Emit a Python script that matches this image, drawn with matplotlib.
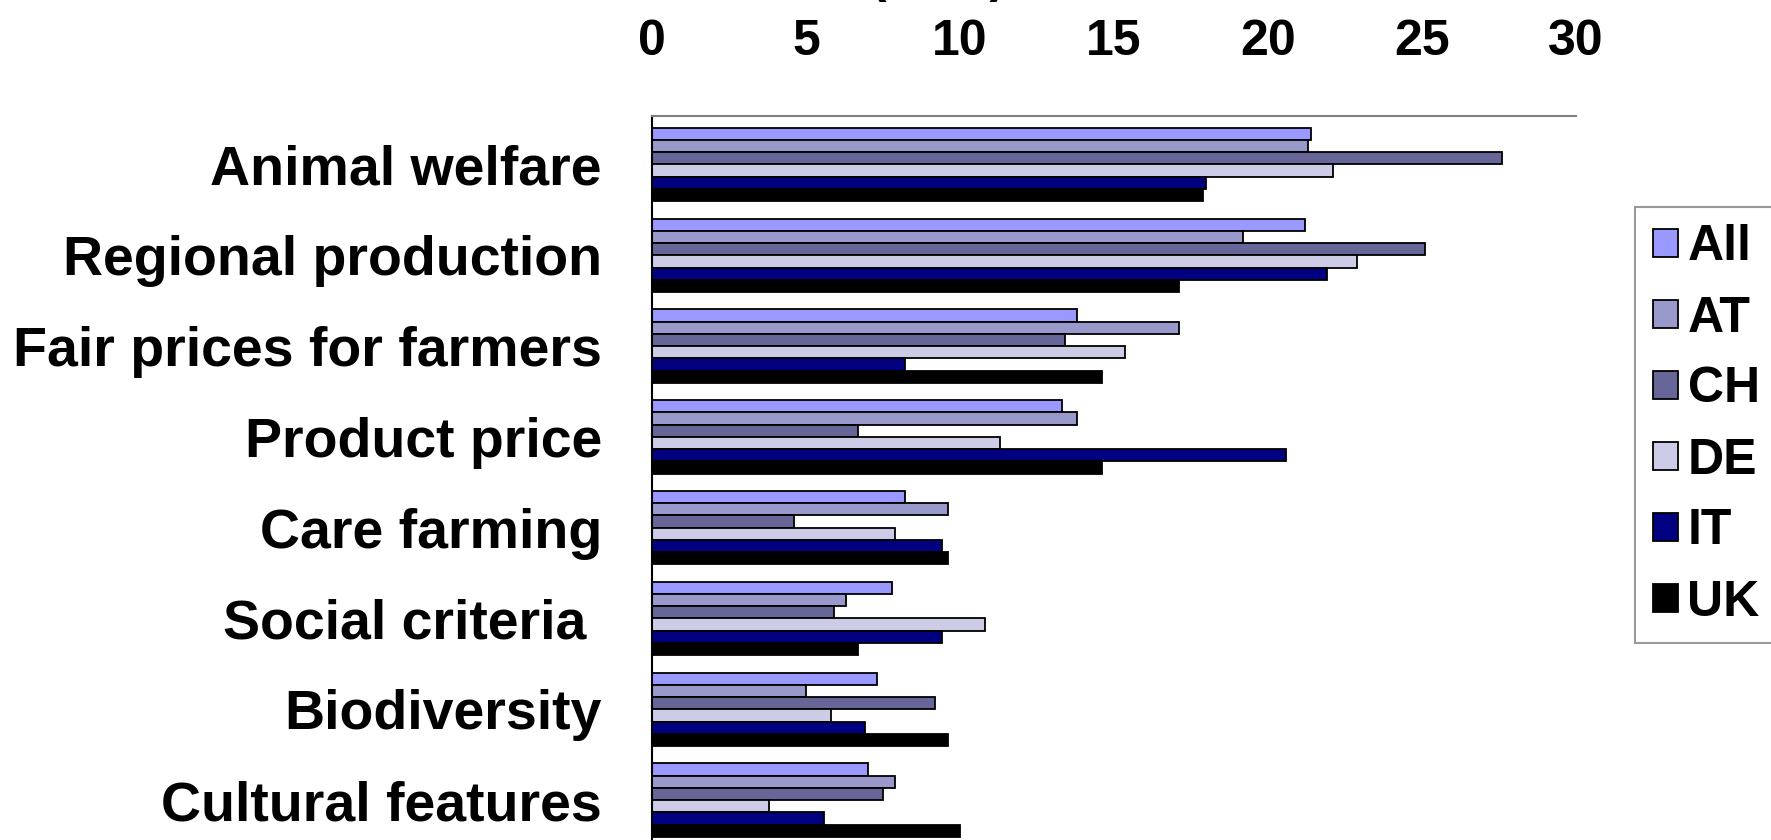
import matplotlib
matplotlib.use('Agg')
import matplotlib.pyplot as plt
import numpy as np

categories = ['Animal welfare', 'Regional production', 'Fair prices for farmers',
              'Product price', 'Care farming', 'Social criteria ', 'Biodiversity',
              'Cultural features']
series = ['All', 'AT', 'CH', 'DE', 'IT', 'UK']
all_vals = [21.4, 21.2, 13.8, 13.3, 8.2, 7.8, 7.3, 7.0]
at_vals = [21.3, 19.2, 17.1, 13.8, 9.6, 6.3, 5.0, 7.9]
ch_vals = [27.6, 25.1, 13.4, 6.7, 4.6, 5.9, 9.2, 7.5]
de_vals = [22.1, 22.9, 15.35, 11.3, 7.9, 10.8, 5.8, 3.8]
it_vals = [18.0, 21.9, 8.2, 20.6, 9.4, 9.4, 6.9, 5.6]
uk_vals = [17.9, 17.1, 14.6, 14.6, 9.6, 6.7, 9.6, 10.0]
xticks = [0, 5, 10, 15, 20, 25, 30]

colors = ['#9999FF', '#9999CC', '#666699', '#CCCCE6', '#000080', '#000000']

plt.rcParams['font.family'] = ['Liberation Sans', 'DejaVu Sans']
plt.rcParams['font.weight'] = 'bold'

fig = plt.figure(figsize=(17.71, 8.40), dpi=100)
ax = fig.add_axes([652 / 1771, -0.0101, 924 / 1771, 0.8719])

data = [all_vals, at_vals, ch_vals, de_vals, it_vals, uk_vals]
y = np.arange(len(categories))
h = 0.135
for k, (name, vals) in enumerate(zip(series, data)):
    ax.barh(y + (k - 2.5) * h, vals, height=h, color=colors[k],
            edgecolor='black', linewidth=1.3, label=name)

ax.set_xlim(0, 30)
ax.set_ylim(7.533, -0.533)
ax.xaxis.tick_top()
ax.set_xticks(xticks)
ax.set_xticklabels([str(t) for t in xticks], fontsize=36, fontweight='bold')
ax.set_yticks(y)
ax.set_yticklabels(categories, fontsize=40, fontweight='bold')
ax.tick_params(axis='x', length=0, pad=37)
ax.tick_params(axis='y', length=0, pad=36)

ax.spines['right'].set_visible(False)
ax.spines['bottom'].set_visible(False)
ax.spines['top'].set_color('#808080')
ax.spines['top'].set_linewidth(1.5)
ax.spines['left'].set_color('black')
ax.spines['left'].set_linewidth(1.5)

leg = fig.legend(loc='upper left', bbox_to_anchor=(1635 / 1771, 1 - 207 / 840),
                 borderaxespad=0, handlelength=0.5, handleheight=0.5,
                 handletextpad=0.2, labelspacing=0.5, borderpad=0.35,
                 fancybox=False, frameon=True, prop={'weight': 'bold', 'size': 36})
leg.get_frame().set_edgecolor('#808080')
leg.get_frame().set_linewidth(1.5)

# title sits mostly above the cropped picture, only the brackets peek in
fig.text(870 / 1771, 1 + 8.5 / 840, '(in %)', fontsize=36, fontweight='bold',
         ha='left', va='baseline')

fig.savefig('out.png', dpi=100)
